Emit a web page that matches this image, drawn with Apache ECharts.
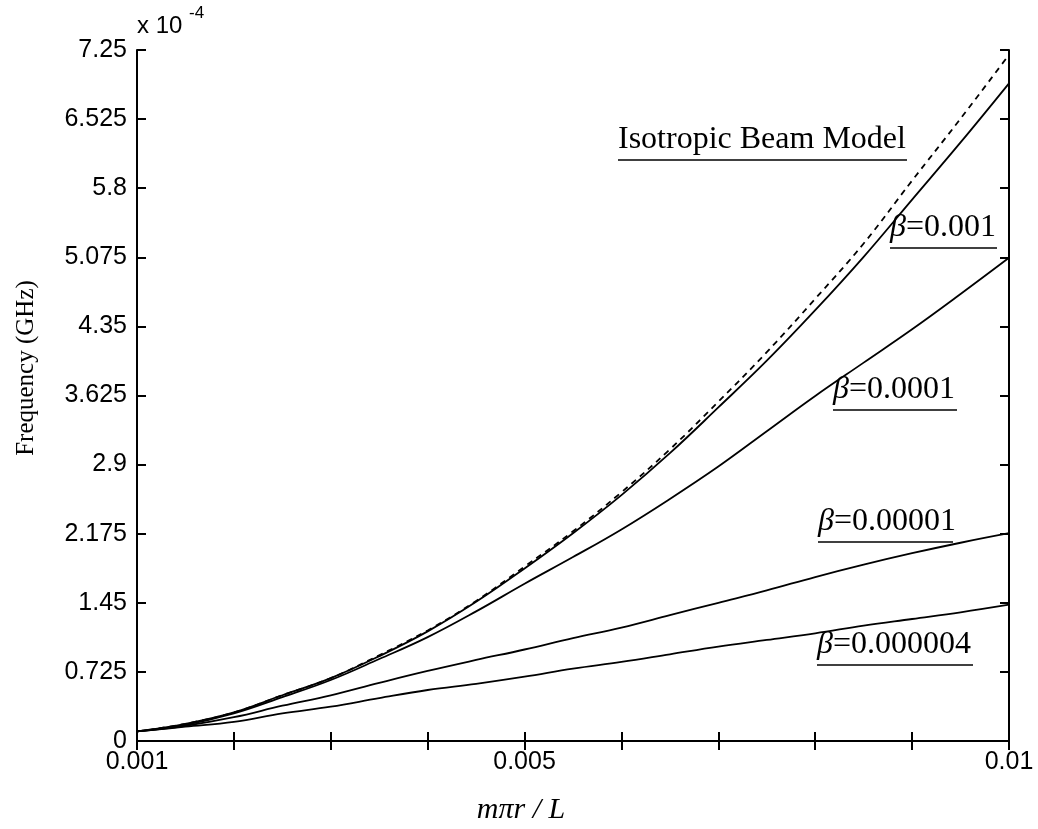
<!DOCTYPE html>
<html>
<head>
<meta charset="utf-8">
<script src="https://cdn.jsdelivr.net/npm/echarts@6/dist/echarts.min.js"></script>
<style>
  html, body { margin: 0; padding: 0; background: #fff; }
  #chart { width: 1038px; height: 829px; }
</style>
</head>
<body>
<div id="chart"></div>
<script>
// m*pi*r/L sample points
const xValues = [0.001, 0.0015, 0.002, 0.0025, 0.003, 0.0035, 0.004, 0.0045, 0.005, 0.0055,
                 0.006, 0.0065, 0.007, 0.0075, 0.008, 0.0085, 0.009, 0.0095, 0.01];

// Frequency in units of 1e-4 GHz
const isotropic   = [0.10, 0.18, 0.30, 0.48, 0.66, 0.90, 1.16, 1.47, 1.83, 2.20,
                     2.61, 3.06, 3.56, 4.08, 4.64, 5.22, 5.88, 6.53, 7.20];
const beta1e3     = [0.10, 0.18, 0.30, 0.48, 0.66, 0.89, 1.15, 1.46, 1.81, 2.18,
                     2.58, 3.02, 3.50, 3.99, 4.52, 5.08, 5.68, 6.28, 6.90];
const beta1e4     = [0.10, 0.17, 0.29, 0.46, 0.64, 0.86, 1.09, 1.36, 1.65, 1.93,
                     2.22, 2.54, 2.88, 3.25, 3.62, 3.97, 4.32, 4.69, 5.07];
const beta1e5     = [0.10, 0.16, 0.25, 0.37, 0.48, 0.61, 0.735, 0.85, 0.96, 1.08,
                     1.19, 1.32, 1.45, 1.58, 1.72, 1.85, 1.97, 2.08, 2.18];
const beta4e6     = [0.10, 0.15, 0.20, 0.29, 0.36, 0.45, 0.535, 0.60, 0.675, 0.76,
                     0.83, 0.91, 0.99, 1.06, 1.13, 1.21, 1.28, 1.35, 1.43];

const xTickLabels = ['0.001', '0.005', '0.01'];
const yTickLabels = ['0', '0.725', '1.45', '2.175', '2.9', '3.625', '4.35', '5.075', '5.8', '6.525', '7.25'];

const curveLabels = [
  { text: 'Isotropic Beam Model', beta: false, x: 618, base: 156, w: 289 },
  { text: '=0.001',     beta: true, x: 890, base: 244, w: 107 },
  { text: '=0.0001',    beta: true, x: 833, base: 406, w: 124 },
  { text: '=0.00001',   beta: true, x: 818, base: 538, w: 135 },
  { text: '=0.000004',  beta: true, x: 817, base: 661, w: 156 }
];

const pairs = arr => xValues.map((x, i) => [x, arr[i]]);
const serif = '"Liberation Serif", "Times New Roman", serif';
const sans = '"Liberation Sans", Arial, sans-serif';

const chart = echarts.init(document.getElementById('chart'), null, { renderer: 'canvas' });

const axisLineStyle = { lineStyle: { color: '#000', width: 2 } };
const tickStyle = { show: true, inside: true, length: 9, lineStyle: { color: '#000', width: 2 } };

function xLabel(v) {
  for (const t of xTickLabels) if (Math.abs(parseFloat(t) - v) < 1e-9) return t;
  return '';
}
function yLabel(v) {
  const k = Math.round(v / 0.725);
  return yTickLabels[k] !== undefined ? yTickLabels[k] : '';
}

const lineSeries = (name, data, dashed) => ({
  name, type: 'line', data: pairs(data), smooth: 0.4, symbol: 'none',
  lineStyle: { color: '#000', width: 1.8, type: dashed ? [6, 5] : 'solid' },
  animation: false, z: 3
});

const graphics = [];
curveLabels.forEach(l => {
  graphics.push({
    type: 'text', x: l.x, y: l.base,
    style: {
      text: l.beta ? '{b|β}' + l.text : l.text,
      font: '32px ' + serif, fill: '#000',
      verticalAlign: 'bottom', align: 'left',
      rich: { b: { fontStyle: 'italic', fontSize: 32, fontFamily: serif, fill: '#000' } }
    }
  });
  graphics.push({
    type: 'line', shape: { x1: l.x, y1: l.base + 4, x2: l.x + l.w, y2: l.base + 4 },
    style: { stroke: '#000', lineWidth: 1.5 }
  });
});
// exponent marker above the frequency axis
graphics.push({ type: 'text', x: 137, y: 38, style: { text: 'x 10', font: '24px ' + sans, fill: '#000', verticalAlign: 'bottom' } });
graphics.push({ type: 'text', x: 189, y: 22, style: { text: '-4', font: '17px ' + sans, fill: '#000', verticalAlign: 'bottom' } });
// axis titles
graphics.push({
  type: 'text', x: 26, y: 368, rotation: Math.PI / 2,
  style: { text: 'Frequency (GHz)', font: '25px ' + serif, fill: '#000', align: 'center', verticalAlign: 'middle' }
});
graphics.push({
  type: 'text', x: 521, y: 810,
  style: { text: 'mπr / L', font: 'italic 30px ' + serif, fill: '#000', align: 'center', verticalAlign: 'middle' }
});

chart.setOption({
  animation: false,
  backgroundColor: '#fff',
  grid: { left: 137, right: 29, top: 50, bottom: 88, containLabel: false },
  xAxis: [
    {
      type: 'value', min: 0.001, max: 0.01, interval: 0.001, position: 'bottom',
      axisLine: axisLineStyle, axisTick: tickStyle, splitLine: { show: false },
      axisLabel: { formatter: xLabel, color: '#000', fontFamily: sans, fontSize: 25, margin: 9, hideOverlap: false,
                   showMinLabel: true, showMaxLabel: true }
    },
    {
      type: 'value', min: 0.001, max: 0.01, interval: 0.001, position: 'top',
      axisLine: axisLineStyle, axisTick: tickStyle, splitLine: { show: false },
      axisLabel: { show: false }
    }
  ],
  yAxis: [
    {
      type: 'value', min: 0, max: 7.25, interval: 0.725, position: 'left',
      axisLine: { show: true, lineStyle: { color: '#000', width: 2 } }, axisTick: tickStyle, splitLine: { show: false },
      axisLabel: { formatter: yLabel, color: '#000', fontFamily: sans, fontSize: 25, margin: 10, hideOverlap: false,
                   showMinLabel: true, showMaxLabel: true }
    },
    {
      type: 'value', min: 0, max: 7.25, interval: 0.725, position: 'right',
      axisLine: { show: true, lineStyle: { color: '#000', width: 2 } }, axisTick: tickStyle, splitLine: { show: false },
      axisLabel: { show: false }
    }
  ],
  series: [
    lineSeries('Isotropic Beam Model', isotropic, true),
    lineSeries('β=0.001', beta1e3, false),
    lineSeries('β=0.0001', beta1e4, false),
    lineSeries('β=0.00001', beta1e5, false),
    lineSeries('β=0.000004', beta4e6, false)
  ],
  graphic: graphics
});
</script>
</body>
</html>
